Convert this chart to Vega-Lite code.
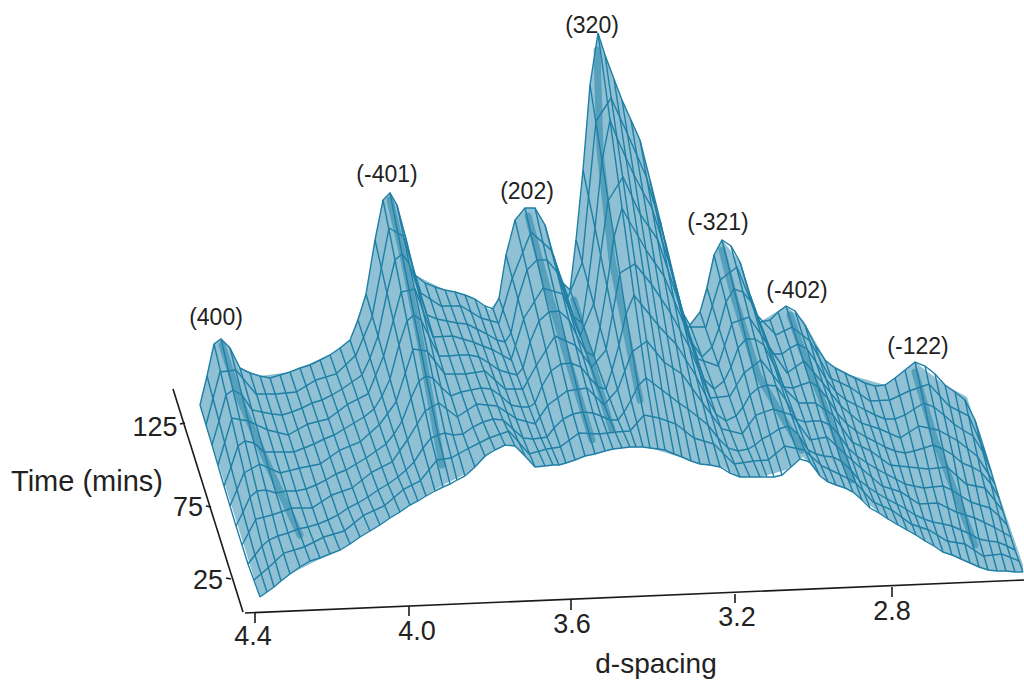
{"$schema":"https://vega.github.io/schema/vega-lite/v6.json","autosize":"none","padding":0,"width":1024,"height":681,"background":"white","config":{"view":{"stroke":null}},
"datasets":{
"fill":[{"x":200,"t":405,"b":405},{"x":207,"t":376,"b":428},{"x":214,"t":344,"b":450},{"x":221,"t":339,"b":472},{"x":230,"t":348,"b":501},{"x":240,"t":368,"b":533},{"x":260,"t":376,"b":597},{"x":290,"t":372,"b":574},{"x":330,"t":355,"b":554},{"x":350,"t":340,"b":544},{"x":366,"t":294,"b":533},{"x":375,"t":240,"b":528},{"x":383,"t":200,"b":523},{"x":390,"t":193,"b":518},{"x":397,"t":205,"b":514},{"x":405,"t":235,"b":508},{"x":415,"t":275,"b":502},{"x":445,"t":290,"b":484},{"x":470,"t":296,"b":472},{"x":490,"t":310,"b":453},{"x":499,"t":298,"b":448},{"x":506,"t":255,"b":444},{"x":515,"t":220,"b":446},{"x":525,"t":208,"b":456},{"x":535,"t":208,"b":467},{"x":545,"t":225,"b":466},{"x":553,"t":254,"b":465},{"x":562,"t":282,"b":465},{"x":570,"t":290,"b":462},{"x":576,"t":240,"b":460},{"x":583,"t":170,"b":457},{"x":590,"t":85,"b":455},{"x":598,"t":33,"b":453},{"x":605,"t":55,"b":451},{"x":622,"t":100,"b":448},{"x":640,"t":140,"b":447},{"x":650,"t":180,"b":448},{"x":670,"t":265,"b":454},{"x":680,"t":308,"b":457},{"x":690,"t":325,"b":461},{"x":700,"t":312,"b":464},{"x":714,"t":255,"b":466},{"x":722,"t":240,"b":467},{"x":740,"t":262,"b":477},{"x":760,"t":322,"b":477},{"x":786,"t":306,"b":470},{"x":803,"t":320,"b":457},{"x":827,"t":362,"b":482},{"x":850,"t":375,"b":490},{"x":885,"t":385,"b":517},{"x":915,"t":362,"b":535},{"x":945,"t":385,"b":552},{"x":967,"t":397,"b":562},{"x":987,"t":460,"b":570},{"x":1023,"t":565,"b":572}],
"wire":[
{"i":1,"j":0,"x":260,"y":597},{"i":1,"j":1,"x":248,"y":564},{"i":1,"j":2,"x":236,"y":526},{"i":1,"j":3,"x":224,"y":486},{"i":1,"j":4,"x":212,"y":445},{"i":1,"j":5,"x":200,"y":405},
{"i":2,"j":0,"x":267,"y":592},{"i":2,"j":1,"x":255,"y":555},{"i":2,"j":2,"x":243,"y":512},{"i":2,"j":3,"x":231,"y":467},{"i":2,"j":4,"x":219,"y":421},{"i":2,"j":5,"x":207,"y":376},
{"i":3,"j":0,"x":274,"y":587},{"i":3,"j":1,"x":262,"y":546},{"i":3,"j":2,"x":250,"y":497},{"i":3,"j":3,"x":238,"y":446},{"i":3,"j":4,"x":226,"y":395},{"i":3,"j":5,"x":214,"y":344},
{"i":4,"j":0,"x":281,"y":581},{"i":4,"j":1,"x":269,"y":540},{"i":4,"j":2,"x":257,"y":491},{"i":4,"j":3,"x":245,"y":441},{"i":4,"j":4,"x":233,"y":390},{"i":4,"j":5,"x":221,"y":339},
{"i":5,"j":0,"x":290,"y":574},{"i":5,"j":1,"x":278,"y":536},{"i":5,"j":2,"x":266,"y":490},{"i":5,"j":3,"x":254,"y":443},{"i":5,"j":4,"x":242,"y":395},{"i":5,"j":5,"x":230,"y":348},
{"i":6,"j":0,"x":300,"y":567},{"i":6,"j":1,"x":288,"y":533},{"i":6,"j":2,"x":276,"y":493},{"i":6,"j":3,"x":264,"y":452},{"i":6,"j":4,"x":252,"y":410},{"i":6,"j":5,"x":240,"y":368},
{"i":7,"j":0,"x":310,"y":561},{"i":7,"j":1,"x":298,"y":529},{"i":7,"j":2,"x":286,"y":491},{"i":7,"j":3,"x":274,"y":452},{"i":7,"j":4,"x":262,"y":412},{"i":7,"j":5,"x":250,"y":373},
{"i":8,"j":0,"x":320,"y":558},{"i":8,"j":1,"x":308,"y":527},{"i":8,"j":2,"x":296,"y":491},{"i":8,"j":3,"x":284,"y":452},{"i":8,"j":4,"x":272,"y":414},{"i":8,"j":5,"x":260,"y":376},
{"i":9,"j":0,"x":330,"y":554},{"i":9,"j":1,"x":318,"y":524},{"i":9,"j":2,"x":306,"y":489},{"i":9,"j":3,"x":294,"y":452},{"i":9,"j":4,"x":282,"y":415},{"i":9,"j":5,"x":270,"y":378},
{"i":10,"j":0,"x":340,"y":550},{"i":10,"j":1,"x":328,"y":520},{"i":10,"j":2,"x":316,"y":485},{"i":10,"j":3,"x":304,"y":448},{"i":10,"j":4,"x":292,"y":412},{"i":10,"j":5,"x":280,"y":375},
{"i":11,"j":0,"x":350,"y":544},{"i":11,"j":1,"x":338,"y":515},{"i":11,"j":2,"x":326,"y":480},{"i":11,"j":3,"x":314,"y":444},{"i":11,"j":4,"x":302,"y":408},{"i":11,"j":5,"x":290,"y":372},
{"i":12,"j":0,"x":360,"y":537},{"i":12,"j":1,"x":348,"y":508},{"i":12,"j":2,"x":336,"y":474},{"i":12,"j":3,"x":324,"y":439},{"i":12,"j":4,"x":312,"y":403},{"i":12,"j":5,"x":300,"y":368},
{"i":13,"j":0,"x":370,"y":531},{"i":13,"j":1,"x":358,"y":503},{"i":13,"j":2,"x":346,"y":470},{"i":13,"j":3,"x":334,"y":435},{"i":13,"j":4,"x":322,"y":400},{"i":13,"j":5,"x":310,"y":365},
{"i":14,"j":0,"x":380,"y":525},{"i":14,"j":1,"x":368,"y":497},{"i":14,"j":2,"x":356,"y":464},{"i":14,"j":3,"x":344,"y":429},{"i":14,"j":4,"x":332,"y":395},{"i":14,"j":5,"x":320,"y":360},
{"i":15,"j":0,"x":390,"y":518},{"i":15,"j":1,"x":378,"y":490},{"i":15,"j":2,"x":366,"y":458},{"i":15,"j":3,"x":354,"y":423},{"i":15,"j":4,"x":342,"y":389},{"i":15,"j":5,"x":330,"y":355},
{"i":16,"j":0,"x":400,"y":512},{"i":16,"j":1,"x":388,"y":484},{"i":16,"j":2,"x":376,"y":451},{"i":16,"j":3,"x":364,"y":417},{"i":16,"j":4,"x":352,"y":382},{"i":16,"j":5,"x":340,"y":348},
{"i":17,"j":0,"x":410,"y":505},{"i":17,"j":1,"x":398,"y":477},{"i":17,"j":2,"x":386,"y":444},{"i":17,"j":3,"x":374,"y":409},{"i":17,"j":4,"x":362,"y":375},{"i":17,"j":5,"x":350,"y":340},
{"i":18,"j":0,"x":418,"y":501},{"i":18,"j":1,"x":406,"y":470},{"i":18,"j":2,"x":394,"y":434},{"i":18,"j":3,"x":382,"y":396},{"i":18,"j":4,"x":370,"y":358},{"i":18,"j":5,"x":358,"y":320},
{"i":19,"j":0,"x":426,"y":496},{"i":19,"j":1,"x":414,"y":462},{"i":19,"j":2,"x":402,"y":421},{"i":19,"j":3,"x":390,"y":379},{"i":19,"j":4,"x":378,"y":336},{"i":19,"j":5,"x":366,"y":294},
{"i":20,"j":0,"x":435,"y":491},{"i":20,"j":1,"x":423,"y":448},{"i":20,"j":2,"x":411,"y":398},{"i":20,"j":3,"x":399,"y":345},{"i":20,"j":4,"x":387,"y":293},{"i":20,"j":5,"x":375,"y":240},
{"i":21,"j":0,"x":443,"y":487},{"i":21,"j":1,"x":431,"y":438},{"i":21,"j":2,"x":419,"y":381},{"i":21,"j":3,"x":407,"y":321},{"i":21,"j":4,"x":395,"y":260},{"i":21,"j":5,"x":383,"y":200},
{"i":22,"j":0,"x":450,"y":484},{"i":22,"j":1,"x":438,"y":435},{"i":22,"j":2,"x":426,"y":376},{"i":22,"j":3,"x":414,"y":315},{"i":22,"j":4,"x":402,"y":254},{"i":22,"j":5,"x":390,"y":193},
{"i":23,"j":0,"x":457,"y":480},{"i":23,"j":1,"x":445,"y":433},{"i":23,"j":2,"x":433,"y":378},{"i":23,"j":3,"x":421,"y":320},{"i":23,"j":4,"x":409,"y":263},{"i":23,"j":5,"x":397,"y":205},
{"i":24,"j":0,"x":465,"y":476},{"i":24,"j":1,"x":453,"y":435},{"i":24,"j":2,"x":441,"y":387},{"i":24,"j":3,"x":429,"y":336},{"i":24,"j":4,"x":417,"y":286},{"i":24,"j":5,"x":405,"y":235},
{"i":25,"j":0,"x":475,"y":467},{"i":25,"j":1,"x":463,"y":434},{"i":25,"j":2,"x":451,"y":396},{"i":25,"j":3,"x":439,"y":356},{"i":25,"j":4,"x":427,"y":315},{"i":25,"j":5,"x":415,"y":275},
{"i":26,"j":0,"x":485,"y":456},{"i":26,"j":1,"x":473,"y":427},{"i":26,"j":2,"x":461,"y":392},{"i":26,"j":3,"x":449,"y":356},{"i":26,"j":4,"x":437,"y":319},{"i":26,"j":5,"x":425,"y":283},
{"i":27,"j":0,"x":495,"y":450},{"i":27,"j":1,"x":483,"y":422},{"i":27,"j":2,"x":471,"y":390},{"i":27,"j":3,"x":459,"y":355},{"i":27,"j":4,"x":447,"y":321},{"i":27,"j":5,"x":435,"y":287},
{"i":28,"j":0,"x":505,"y":445},{"i":28,"j":1,"x":493,"y":419},{"i":28,"j":2,"x":481,"y":388},{"i":28,"j":3,"x":469,"y":355},{"i":28,"j":4,"x":457,"y":323},{"i":28,"j":5,"x":445,"y":290},
{"i":29,"j":0,"x":515,"y":446},{"i":29,"j":1,"x":503,"y":420},{"i":29,"j":2,"x":491,"y":389},{"i":29,"j":3,"x":479,"y":357},{"i":29,"j":4,"x":467,"y":324},{"i":29,"j":5,"x":455,"y":292},
{"i":30,"j":0,"x":525,"y":456},{"i":30,"j":1,"x":513,"y":429},{"i":30,"j":2,"x":501,"y":396},{"i":30,"j":3,"x":489,"y":363},{"i":30,"j":4,"x":477,"y":329},{"i":30,"j":5,"x":465,"y":295},
{"i":31,"j":0,"x":535,"y":467},{"i":31,"j":1,"x":523,"y":438},{"i":31,"j":2,"x":511,"y":405},{"i":31,"j":3,"x":499,"y":370},{"i":31,"j":4,"x":487,"y":334},{"i":31,"j":5,"x":475,"y":299},
{"i":32,"j":0,"x":545,"y":466},{"i":32,"j":1,"x":533,"y":439},{"i":32,"j":2,"x":521,"y":407},{"i":32,"j":3,"x":509,"y":373},{"i":32,"j":4,"x":497,"y":340},{"i":32,"j":5,"x":485,"y":306},
{"i":33,"j":0,"x":553,"y":465},{"i":33,"j":1,"x":541,"y":438},{"i":33,"j":2,"x":529,"y":407},{"i":33,"j":3,"x":517,"y":375},{"i":33,"j":4,"x":505,"y":342},{"i":33,"j":5,"x":493,"y":309},
{"i":34,"j":0,"x":559,"y":465},{"i":34,"j":1,"x":547,"y":437},{"i":34,"j":2,"x":535,"y":403},{"i":34,"j":3,"x":523,"y":368},{"i":34,"j":4,"x":511,"y":333},{"i":34,"j":5,"x":499,"y":298},
{"i":35,"j":0,"x":566,"y":463},{"i":35,"j":1,"x":554,"y":428},{"i":35,"j":2,"x":542,"y":386},{"i":35,"j":3,"x":530,"y":342},{"i":35,"j":4,"x":518,"y":299},{"i":35,"j":5,"x":506,"y":255},
{"i":36,"j":0,"x":575,"y":460},{"i":36,"j":1,"x":563,"y":419},{"i":36,"j":2,"x":551,"y":371},{"i":36,"j":3,"x":539,"y":321},{"i":36,"j":4,"x":527,"y":270},{"i":36,"j":5,"x":515,"y":220},
{"i":37,"j":0,"x":585,"y":456},{"i":37,"j":1,"x":573,"y":414},{"i":37,"j":2,"x":561,"y":364},{"i":37,"j":3,"x":549,"y":312},{"i":37,"j":4,"x":537,"y":260},{"i":37,"j":5,"x":525,"y":208},
{"i":38,"j":0,"x":595,"y":454},{"i":38,"j":1,"x":583,"y":412},{"i":38,"j":2,"x":571,"y":363},{"i":38,"j":3,"x":559,"y":311},{"i":38,"j":4,"x":547,"y":260},{"i":38,"j":5,"x":535,"y":208},
{"i":39,"j":0,"x":605,"y":451},{"i":39,"j":1,"x":593,"y":413},{"i":39,"j":2,"x":581,"y":367},{"i":39,"j":3,"x":569,"y":320},{"i":39,"j":4,"x":557,"y":272},{"i":39,"j":5,"x":545,"y":225},
{"i":40,"j":0,"x":613,"y":449},{"i":40,"j":1,"x":601,"y":416},{"i":40,"j":2,"x":589,"y":377},{"i":40,"j":3,"x":577,"y":336},{"i":40,"j":4,"x":565,"y":295},{"i":40,"j":5,"x":553,"y":254},
{"i":41,"j":0,"x":622,"y":448},{"i":41,"j":1,"x":610,"y":420},{"i":41,"j":2,"x":598,"y":387},{"i":41,"j":3,"x":586,"y":352},{"i":41,"j":4,"x":574,"y":317},{"i":41,"j":5,"x":562,"y":282},
{"i":42,"j":0,"x":630,"y":447},{"i":42,"j":1,"x":618,"y":420},{"i":42,"j":2,"x":606,"y":389},{"i":42,"j":3,"x":594,"y":356},{"i":42,"j":4,"x":582,"y":323},{"i":42,"j":5,"x":570,"y":290},
{"i":43,"j":0,"x":636,"y":447},{"i":43,"j":1,"x":624,"y":412},{"i":43,"j":2,"x":612,"y":370},{"i":43,"j":3,"x":600,"y":327},{"i":43,"j":4,"x":588,"y":283},{"i":43,"j":5,"x":576,"y":240},
{"i":44,"j":0,"x":643,"y":447},{"i":44,"j":1,"x":631,"y":400},{"i":44,"j":2,"x":619,"y":345},{"i":44,"j":3,"x":607,"y":286},{"i":44,"j":4,"x":595,"y":228},{"i":44,"j":5,"x":583,"y":170},
{"i":45,"j":0,"x":650,"y":448},{"i":45,"j":1,"x":638,"y":386},{"i":45,"j":2,"x":626,"y":314},{"i":45,"j":3,"x":614,"y":237},{"i":45,"j":4,"x":602,"y":161},{"i":45,"j":5,"x":590,"y":85},
{"i":46,"j":0,"x":658,"y":449},{"i":46,"j":1,"x":646,"y":378},{"i":46,"j":2,"x":634,"y":295},{"i":46,"j":3,"x":622,"y":208},{"i":46,"j":4,"x":610,"y":120},{"i":46,"j":5,"x":598,"y":33},
{"i":47,"j":0,"x":665,"y":450},{"i":47,"j":1,"x":653,"y":383},{"i":47,"j":2,"x":641,"y":304},{"i":47,"j":3,"x":629,"y":221},{"i":47,"j":4,"x":617,"y":138},{"i":47,"j":5,"x":605,"y":55},
{"i":48,"j":0,"x":674,"y":454},{"i":48,"j":1,"x":662,"y":390},{"i":48,"j":2,"x":650,"y":315},{"i":48,"j":3,"x":638,"y":236},{"i":48,"j":4,"x":626,"y":158},{"i":48,"j":5,"x":614,"y":79},
{"i":49,"j":0,"x":682,"y":457},{"i":49,"j":1,"x":670,"y":396},{"i":49,"j":2,"x":658,"y":325},{"i":49,"j":3,"x":646,"y":250},{"i":49,"j":4,"x":634,"y":175},{"i":49,"j":5,"x":622,"y":100},
{"i":50,"j":0,"x":691,"y":461},{"i":50,"j":1,"x":679,"y":403},{"i":50,"j":2,"x":667,"y":335},{"i":50,"j":3,"x":655,"y":263},{"i":50,"j":4,"x":643,"y":192},{"i":50,"j":5,"x":631,"y":120},
{"i":51,"j":0,"x":700,"y":464},{"i":51,"j":1,"x":688,"y":409},{"i":51,"j":2,"x":676,"y":344},{"i":51,"j":3,"x":664,"y":276},{"i":51,"j":4,"x":652,"y":208},{"i":51,"j":5,"x":640,"y":140},
{"i":52,"j":0,"x":710,"y":465},{"i":52,"j":1,"x":698,"y":417},{"i":52,"j":2,"x":686,"y":360},{"i":52,"j":3,"x":674,"y":300},{"i":52,"j":4,"x":662,"y":240},{"i":52,"j":5,"x":650,"y":180},
{"i":53,"j":0,"x":720,"y":467},{"i":53,"j":1,"x":708,"y":425},{"i":53,"j":2,"x":696,"y":376},{"i":53,"j":3,"x":684,"y":324},{"i":53,"j":4,"x":672,"y":272},{"i":53,"j":5,"x":660,"y":220},
{"i":54,"j":0,"x":730,"y":473},{"i":54,"j":1,"x":718,"y":438},{"i":54,"j":2,"x":706,"y":396},{"i":54,"j":3,"x":694,"y":352},{"i":54,"j":4,"x":682,"y":309},{"i":54,"j":5,"x":670,"y":265},
{"i":55,"j":0,"x":740,"y":477},{"i":55,"j":1,"x":728,"y":448},{"i":55,"j":2,"x":716,"y":414},{"i":55,"j":3,"x":704,"y":379},{"i":55,"j":4,"x":692,"y":343},{"i":55,"j":5,"x":680,"y":308},
{"i":56,"j":0,"x":750,"y":477},{"i":56,"j":1,"x":738,"y":451},{"i":56,"j":2,"x":726,"y":421},{"i":56,"j":3,"x":714,"y":389},{"i":56,"j":4,"x":702,"y":357},{"i":56,"j":5,"x":690,"y":325},
{"i":57,"j":0,"x":760,"y":477},{"i":57,"j":1,"x":748,"y":449},{"i":57,"j":2,"x":736,"y":416},{"i":57,"j":3,"x":724,"y":381},{"i":57,"j":4,"x":712,"y":347},{"i":57,"j":5,"x":700,"y":312},
{"i":58,"j":0,"x":767,"y":477},{"i":58,"j":1,"x":755,"y":445},{"i":58,"j":2,"x":743,"y":407},{"i":58,"j":3,"x":731,"y":367},{"i":58,"j":4,"x":719,"y":328},{"i":58,"j":5,"x":707,"y":288},
{"i":59,"j":0,"x":774,"y":477},{"i":59,"j":1,"x":762,"y":439},{"i":59,"j":2,"x":750,"y":395},{"i":59,"j":3,"x":738,"y":348},{"i":59,"j":4,"x":726,"y":302},{"i":59,"j":5,"x":714,"y":255},
{"i":60,"j":0,"x":782,"y":475},{"i":60,"j":1,"x":770,"y":435},{"i":60,"j":2,"x":758,"y":388},{"i":60,"j":3,"x":746,"y":339},{"i":60,"j":4,"x":734,"y":289},{"i":60,"j":5,"x":722,"y":240},
{"i":61,"j":0,"x":791,"y":467},{"i":61,"j":1,"x":779,"y":429},{"i":61,"j":2,"x":767,"y":385},{"i":61,"j":3,"x":755,"y":339},{"i":61,"j":4,"x":743,"y":292},{"i":61,"j":5,"x":731,"y":246},
{"i":62,"j":0,"x":800,"y":459},{"i":62,"j":1,"x":788,"y":426},{"i":62,"j":2,"x":776,"y":386},{"i":62,"j":3,"x":764,"y":345},{"i":62,"j":4,"x":752,"y":303},{"i":62,"j":5,"x":740,"y":262},
{"i":63,"j":0,"x":810,"y":462},{"i":63,"j":1,"x":798,"y":434},{"i":63,"j":2,"x":786,"y":400},{"i":63,"j":3,"x":774,"y":365},{"i":63,"j":4,"x":762,"y":330},{"i":63,"j":5,"x":750,"y":295},
{"i":64,"j":0,"x":820,"y":476},{"i":64,"j":1,"x":808,"y":450},{"i":64,"j":2,"x":796,"y":419},{"i":64,"j":3,"x":784,"y":387},{"i":64,"j":4,"x":772,"y":354},{"i":64,"j":5,"x":760,"y":322},
{"i":65,"j":0,"x":828,"y":482},{"i":65,"j":1,"x":816,"y":454},{"i":65,"j":2,"x":805,"y":422},{"i":65,"j":3,"x":793,"y":388},{"i":65,"j":4,"x":782,"y":354},{"i":65,"j":5,"x":770,"y":320},
{"i":66,"j":0,"x":836,"y":485},{"i":66,"j":1,"x":824,"y":456},{"i":66,"j":2,"x":813,"y":421},{"i":66,"j":3,"x":801,"y":385},{"i":66,"j":4,"x":790,"y":348},{"i":66,"j":5,"x":778,"y":312},
{"i":67,"j":0,"x":845,"y":488},{"i":67,"j":1,"x":833,"y":457},{"i":67,"j":2,"x":821,"y":421},{"i":67,"j":3,"x":810,"y":382},{"i":67,"j":4,"x":798,"y":344},{"i":67,"j":5,"x":786,"y":306},
{"i":68,"j":0,"x":853,"y":492},{"i":68,"j":1,"x":841,"y":461},{"i":68,"j":2,"x":830,"y":425},{"i":68,"j":3,"x":818,"y":387},{"i":68,"j":4,"x":807,"y":349},{"i":68,"j":5,"x":795,"y":311},
{"i":69,"j":0,"x":862,"y":500},{"i":69,"j":1,"x":851,"y":470},{"i":69,"j":2,"x":839,"y":435},{"i":69,"j":3,"x":828,"y":399},{"i":69,"j":4,"x":816,"y":362},{"i":69,"j":5,"x":805,"y":325},
{"i":70,"j":0,"x":870,"y":508},{"i":70,"j":1,"x":859,"y":480},{"i":70,"j":2,"x":848,"y":448},{"i":70,"j":3,"x":837,"y":413},{"i":70,"j":4,"x":826,"y":379},{"i":70,"j":5,"x":815,"y":345},
{"i":71,"j":0,"x":879,"y":513},{"i":71,"j":1,"x":868,"y":487},{"i":71,"j":2,"x":857,"y":456},{"i":71,"j":3,"x":847,"y":424},{"i":71,"j":4,"x":836,"y":392},{"i":71,"j":5,"x":825,"y":360},
{"i":72,"j":0,"x":888,"y":519},{"i":72,"j":1,"x":877,"y":493},{"i":72,"j":2,"x":867,"y":463},{"i":72,"j":3,"x":856,"y":431},{"i":72,"j":4,"x":846,"y":400},{"i":72,"j":5,"x":835,"y":368},
{"i":73,"j":0,"x":898,"y":525},{"i":73,"j":1,"x":887,"y":499},{"i":73,"j":2,"x":877,"y":469},{"i":73,"j":3,"x":866,"y":437},{"i":73,"j":4,"x":856,"y":405},{"i":73,"j":5,"x":845,"y":373},
{"i":74,"j":0,"x":907,"y":530},{"i":74,"j":1,"x":897,"y":504},{"i":74,"j":2,"x":886,"y":474},{"i":74,"j":3,"x":876,"y":442},{"i":74,"j":4,"x":865,"y":410},{"i":74,"j":5,"x":855,"y":378},
{"i":75,"j":0,"x":916,"y":535},{"i":75,"j":1,"x":906,"y":509},{"i":75,"j":2,"x":896,"y":479},{"i":75,"j":3,"x":885,"y":447},{"i":75,"j":4,"x":875,"y":415},{"i":75,"j":5,"x":865,"y":383},
{"i":76,"j":0,"x":925,"y":541},{"i":76,"j":1,"x":915,"y":515},{"i":76,"j":2,"x":905,"y":484},{"i":76,"j":3,"x":895,"y":451},{"i":76,"j":4,"x":885,"y":419},{"i":76,"j":5,"x":875,"y":386},
{"i":77,"j":0,"x":934,"y":546},{"i":77,"j":1,"x":924,"y":519},{"i":77,"j":2,"x":914,"y":486},{"i":77,"j":3,"x":905,"y":453},{"i":77,"j":4,"x":895,"y":419},{"i":77,"j":5,"x":885,"y":385},
{"i":78,"j":0,"x":943,"y":552},{"i":78,"j":1,"x":933,"y":522},{"i":78,"j":2,"x":924,"y":488},{"i":78,"j":3,"x":914,"y":451},{"i":78,"j":4,"x":905,"y":415},{"i":78,"j":5,"x":895,"y":378},
{"i":79,"j":0,"x":952,"y":555},{"i":79,"j":1,"x":943,"y":524},{"i":79,"j":2,"x":933,"y":487},{"i":79,"j":3,"x":924,"y":448},{"i":79,"j":4,"x":914,"y":409},{"i":79,"j":5,"x":905,"y":370},
{"i":80,"j":0,"x":961,"y":559},{"i":80,"j":1,"x":952,"y":526},{"i":80,"j":2,"x":943,"y":486},{"i":80,"j":3,"x":933,"y":445},{"i":80,"j":4,"x":924,"y":403},{"i":80,"j":5,"x":915,"y":362},
{"i":81,"j":0,"x":970,"y":563},{"i":81,"j":1,"x":961,"y":530},{"i":81,"j":2,"x":952,"y":490},{"i":81,"j":3,"x":943,"y":449},{"i":81,"j":4,"x":934,"y":407},{"i":81,"j":5,"x":925,"y":366},
{"i":82,"j":0,"x":979,"y":567},{"i":82,"j":1,"x":970,"y":534},{"i":82,"j":2,"x":961,"y":496},{"i":82,"j":3,"x":953,"y":455},{"i":82,"j":4,"x":944,"y":415},{"i":82,"j":5,"x":935,"y":374},
{"i":83,"j":0,"x":988,"y":570},{"i":83,"j":1,"x":979,"y":539},{"i":83,"j":2,"x":971,"y":502},{"i":83,"j":3,"x":962,"y":463},{"i":83,"j":4,"x":954,"y":424},{"i":83,"j":5,"x":945,"y":385},
{"i":84,"j":0,"x":997,"y":571},{"i":84,"j":1,"x":989,"y":541},{"i":84,"j":2,"x":980,"y":505},{"i":84,"j":3,"x":972,"y":467},{"i":84,"j":4,"x":963,"y":430},{"i":84,"j":5,"x":955,"y":392},
{"i":85,"j":0,"x":1006,"y":571},{"i":85,"j":1,"x":998,"y":542},{"i":85,"j":2,"x":990,"y":508},{"i":85,"j":3,"x":981,"y":472},{"i":85,"j":4,"x":973,"y":436},{"i":85,"j":5,"x":965,"y":400},
{"i":86,"j":0,"x":1015,"y":572},{"i":86,"j":1,"x":1007,"y":546},{"i":86,"j":2,"x":999,"y":516},{"i":86,"j":3,"x":991,"y":484},{"i":86,"j":4,"x":983,"y":452},{"i":86,"j":5,"x":975,"y":420},
{"i":87,"j":0,"x":1023,"y":572},{"i":87,"j":1,"x":1015,"y":550},{"i":87,"j":2,"x":1007,"y":525},{"i":87,"j":3,"x":999,"y":498},{"i":87,"j":4,"x":991,"y":471},{"i":87,"j":5,"x":983,"y":445}
],
"cross":[
{"k":"a","i":1,"x":254,"y":580},{"k":"b","i":1,"x":242,"y":545},{"k":"c","i":1,"x":230,"y":506},{"k":"d","i":1,"x":218,"y":465},{"k":"e","i":1,"x":206,"y":425},
{"k":"a","i":3,"x":268,"y":568},{"k":"b","i":3,"x":256,"y":519},{"k":"c","i":3,"x":244,"y":473},{"k":"d","i":3,"x":232,"y":418},{"k":"e","i":3,"x":220,"y":372},
{"k":"a","i":5,"x":284,"y":553},{"k":"b","i":5,"x":272,"y":515},{"k":"c","i":5,"x":260,"y":464},{"k":"d","i":5,"x":248,"y":421},{"k":"e","i":5,"x":236,"y":370},
{"k":"a","i":7,"x":304,"y":547},{"k":"b","i":7,"x":292,"y":508},{"k":"c","i":7,"x":280,"y":473},{"k":"d","i":7,"x":268,"y":430},{"k":"e","i":7,"x":256,"y":394},
{"k":"a","i":9,"x":324,"y":537},{"k":"b","i":9,"x":312,"y":508},{"k":"c","i":9,"x":300,"y":468},{"k":"d","i":9,"x":288,"y":435},{"k":"e","i":9,"x":276,"y":394},
{"k":"a","i":11,"x":344,"y":531},{"k":"b","i":11,"x":332,"y":495},{"k":"c","i":11,"x":320,"y":464},{"k":"d","i":11,"x":308,"y":424},{"k":"e","i":11,"x":296,"y":392},
{"k":"a","i":13,"x":364,"y":515},{"k":"b","i":13,"x":352,"y":488},{"k":"c","i":13,"x":340,"y":450},{"k":"d","i":13,"x":328,"y":419},{"k":"e","i":13,"x":316,"y":380},
{"k":"a","i":15,"x":384,"y":506},{"k":"b","i":15,"x":372,"y":472},{"k":"c","i":15,"x":360,"y":442},{"k":"d","i":15,"x":348,"y":404},{"k":"e","i":15,"x":336,"y":374},
{"k":"a","i":17,"x":404,"y":489},{"k":"b","i":17,"x":392,"y":462},{"k":"c","i":17,"x":380,"y":424},{"k":"d","i":17,"x":368,"y":394},{"k":"e","i":17,"x":356,"y":355},
{"k":"a","i":19,"x":420,"y":481},{"k":"b","i":19,"x":408,"y":439},{"k":"c","i":19,"x":396,"y":402},{"k":"d","i":19,"x":384,"y":355},{"k":"e","i":19,"x":372,"y":317},
{"k":"a","i":21,"x":437,"y":460},{"k":"b","i":21,"x":425,"y":411},{"k":"c","i":21,"x":413,"y":349},{"k":"d","i":21,"x":401,"y":292},{"k":"e","i":21,"x":389,"y":228},
{"k":"a","i":23,"x":451,"y":458},{"k":"b","i":23,"x":439,"y":403},{"k":"c","i":23,"x":427,"y":351},{"k":"d","i":23,"x":415,"y":289},{"k":"e","i":23,"x":403,"y":236},
{"k":"a","i":25,"x":469,"y":448},{"k":"b","i":25,"x":457,"y":417},{"k":"c","i":25,"x":445,"y":374},{"k":"d","i":25,"x":433,"y":337},{"k":"e","i":25,"x":421,"y":293},
{"k":"a","i":27,"x":489,"y":438},{"k":"b","i":27,"x":477,"y":404},{"k":"c","i":27,"x":465,"y":374},{"k":"d","i":27,"x":453,"y":336},{"k":"e","i":27,"x":441,"y":306},
{"k":"a","i":29,"x":509,"y":431},{"k":"b","i":29,"x":497,"y":406},{"k":"c","i":29,"x":485,"y":371},{"k":"d","i":29,"x":473,"y":342},{"k":"e","i":29,"x":461,"y":306},
{"k":"a","i":31,"x":529,"y":454},{"k":"b","i":31,"x":517,"y":419},{"k":"c","i":31,"x":505,"y":389},{"k":"d","i":31,"x":493,"y":350},{"k":"e","i":31,"x":481,"y":318},
{"k":"a","i":33,"x":547,"y":449},{"k":"b","i":33,"x":535,"y":424},{"k":"c","i":33,"x":523,"y":389},{"k":"d","i":33,"x":511,"y":360},{"k":"e","i":33,"x":499,"y":323},
{"k":"a","i":35,"x":560,"y":447},{"k":"b","i":35,"x":548,"y":405},{"k":"c","i":35,"x":536,"y":366},{"k":"d","i":35,"x":524,"y":318},{"k":"e","i":35,"x":512,"y":279},
{"k":"a","i":37,"x":579,"y":433},{"k":"b","i":37,"x":567,"y":391},{"k":"c","i":37,"x":555,"y":336},{"k":"d","i":37,"x":543,"y":288},{"k":"e","i":37,"x":531,"y":232},
{"k":"a","i":39,"x":599,"y":434},{"k":"b","i":39,"x":587,"y":388},{"k":"c","i":39,"x":575,"y":345},{"k":"d","i":39,"x":563,"y":294},{"k":"e","i":39,"x":551,"y":250},
{"k":"a","i":41,"x":616,"y":432},{"k":"b","i":41,"x":604,"y":405},{"k":"c","i":41,"x":592,"y":367},{"k":"d","i":41,"x":580,"y":336},{"k":"e","i":41,"x":568,"y":297},
{"k":"a","i":43,"x":630,"y":431},{"k":"b","i":43,"x":618,"y":389},{"k":"c","i":43,"x":606,"y":350},{"k":"d","i":43,"x":594,"y":303},{"k":"e","i":43,"x":582,"y":263},
{"k":"a","i":45,"x":644,"y":415},{"k":"b","i":45,"x":632,"y":352},{"k":"c","i":45,"x":620,"y":273},{"k":"d","i":45,"x":608,"y":201},{"k":"e","i":45,"x":596,"y":121},
{"k":"a","i":47,"x":659,"y":418},{"k":"b","i":47,"x":647,"y":341},{"k":"c","i":47,"x":635,"y":264},{"k":"d","i":47,"x":623,"y":177},{"k":"e","i":47,"x":611,"y":98},
{"k":"a","i":49,"x":676,"y":424},{"k":"b","i":49,"x":664,"y":362},{"k":"c","i":49,"x":652,"y":285},{"k":"d","i":49,"x":640,"y":214},{"k":"e","i":49,"x":628,"y":135},
{"k":"a","i":51,"x":694,"y":438},{"k":"b","i":51,"x":682,"y":374},{"k":"c","i":51,"x":670,"y":312},{"k":"d","i":51,"x":658,"y":240},{"k":"e","i":51,"x":646,"y":176},
{"k":"a","i":53,"x":714,"y":444},{"k":"b","i":53,"x":702,"y":402},{"k":"c","i":53,"x":690,"y":348},{"k":"d","i":53,"x":678,"y":300},{"k":"e","i":53,"x":666,"y":244},
{"k":"a","i":55,"x":734,"y":464},{"k":"b","i":55,"x":722,"y":429},{"k":"c","i":55,"x":710,"y":398},{"k":"d","i":55,"x":698,"y":359},{"k":"e","i":55,"x":686,"y":327},
{"k":"a","i":57,"x":754,"y":461},{"k":"b","i":57,"x":742,"y":434},{"k":"c","i":57,"x":730,"y":396},{"k":"d","i":57,"x":718,"y":366},{"k":"e","i":57,"x":706,"y":327},
{"k":"a","i":59,"x":768,"y":460},{"k":"b","i":59,"x":756,"y":415},{"k":"c","i":59,"x":744,"y":373},{"k":"d","i":59,"x":732,"y":323},{"k":"e","i":59,"x":720,"y":280},
{"k":"a","i":61,"x":785,"y":446},{"k":"b","i":61,"x":773,"y":409},{"k":"c","i":61,"x":761,"y":360},{"k":"d","i":61,"x":749,"y":317},{"k":"e","i":61,"x":737,"y":267},
{"k":"a","i":63,"x":804,"y":450},{"k":"b","i":63,"x":792,"y":415},{"k":"c","i":63,"x":780,"y":384},{"k":"d","i":63,"x":768,"y":345},{"k":"e","i":63,"x":756,"y":314},
{"k":"a","i":65,"x":822,"y":466},{"k":"b","i":65,"x":810,"y":440},{"k":"c","i":65,"x":799,"y":403},{"k":"d","i":65,"x":787,"y":373},{"k":"e","i":65,"x":776,"y":335},
{"k":"a","i":67,"x":839,"y":474},{"k":"b","i":67,"x":827,"y":437},{"k":"c","i":67,"x":815,"y":403},{"k":"d","i":67,"x":804,"y":361},{"k":"e","i":67,"x":792,"y":327},
{"k":"a","i":69,"x":856,"y":483},{"k":"b","i":69,"x":845,"y":454},{"k":"c","i":69,"x":833,"y":415},{"k":"d","i":69,"x":822,"y":382},{"k":"e","i":69,"x":810,"y":341},
{"k":"a","i":71,"x":873,"y":502},{"k":"b","i":71,"x":862,"y":469},{"k":"c","i":71,"x":852,"y":442},{"k":"d","i":71,"x":841,"y":406},{"k":"e","i":71,"x":830,"y":378},
{"k":"a","i":73,"x":892,"y":510},{"k":"b","i":73,"x":882,"y":486},{"k":"c","i":73,"x":871,"y":451},{"k":"d","i":73,"x":861,"y":423},{"k":"e","i":73,"x":850,"y":387},
{"k":"a","i":75,"x":911,"y":524},{"k":"b","i":75,"x":901,"y":492},{"k":"c","i":75,"x":890,"y":465},{"k":"d","i":75,"x":880,"y":429},{"k":"e","i":75,"x":870,"y":401},
{"k":"a","i":77,"x":929,"y":530},{"k":"b","i":77,"x":919,"y":504},{"k":"c","i":77,"x":909,"y":467},{"k":"d","i":77,"x":900,"y":438},{"k":"e","i":77,"x":890,"y":400},
{"k":"a","i":79,"x":947,"y":541},{"k":"b","i":79,"x":938,"y":503},{"k":"c","i":79,"x":928,"y":469},{"k":"d","i":79,"x":919,"y":426},{"k":"e","i":79,"x":909,"y":391},
{"k":"a","i":81,"x":965,"y":544},{"k":"b","i":81,"x":956,"y":512},{"k":"c","i":81,"x":947,"y":467},{"k":"d","i":81,"x":938,"y":430},{"k":"e","i":81,"x":929,"y":384},
{"k":"a","i":83,"x":983,"y":556},{"k":"b","i":83,"x":975,"y":518},{"k":"c","i":83,"x":966,"y":484},{"k":"d","i":83,"x":958,"y":441},{"k":"e","i":83,"x":949,"y":406},
{"k":"a","i":85,"x":1002,"y":554},{"k":"b","i":85,"x":994,"y":527},{"k":"c","i":85,"x":985,"y":488},{"k":"d","i":85,"x":977,"y":456},{"k":"e","i":85,"x":969,"y":416},
{"k":"a","i":87,"x":1019,"y":561},{"k":"b","i":87,"x":1011,"y":537},{"k":"c","i":87,"x":1003,"y":511},{"k":"d","i":87,"x":995,"y":484},{"k":"e","i":87,"x":987,"y":458}
],
"ridge":[
{"r":"a","o":1,"x":222,"y":345},{"r":"a","o":2,"x":240,"y":400},{"r":"a","o":3,"x":268,"y":465},{"r":"a","o":4,"x":300,"y":535},
{"r":"b","o":1,"x":390,"y":200},{"r":"b","o":2,"x":404,"y":260},{"r":"b","o":3,"x":420,"y":340},{"r":"b","o":4,"x":442,"y":465},
{"r":"c","o":1,"x":528,"y":216},{"r":"c","o":2,"x":545,"y":280},{"r":"c","o":3,"x":565,"y":350},{"r":"c","o":4,"x":592,"y":440},
{"r":"d","o":1,"x":597,"y":50},{"r":"d","o":2,"x":600,"y":150},{"r":"d","o":3,"x":612,"y":260},{"r":"d","o":4,"x":640,"y":400},
{"r":"e","o":1,"x":722,"y":250},{"r":"e","o":2,"x":735,"y":300},{"r":"e","o":3,"x":758,"y":375},{"r":"e","o":4,"x":802,"y":450},
{"r":"f","o":1,"x":790,"y":315},{"r":"f","o":2,"x":802,"y":350},{"r":"f","o":3,"x":822,"y":400},{"r":"f","o":4,"x":852,"y":480},
{"r":"g","o":1,"x":574,"y":300},{"r":"g","o":2,"x":588,"y":350},{"r":"g","o":3,"x":612,"y":430},
{"r":"h","o":1,"x":915,"y":372},{"r":"h","o":2,"x":935,"y":440},{"r":"h","o":3,"x":975,"y":545}
],
"axes":[
{"s":"time","o":1,"x":173,"y":389},{"s":"time","o":2,"x":243,"y":612},
{"s":"d","o":1,"x":245,"y":613},{"s":"d","o":2,"x":1024,"y":580},
{"s":"t1","o":1,"x":180,"y":424},{"s":"t1","o":2,"x":185,"y":423},
{"s":"t2","o":1,"x":206,"y":506},{"s":"t2","o":2,"x":211,"y":507},
{"s":"t3","o":1,"x":226,"y":578},{"s":"t3","o":2,"x":231,"y":579},
{"s":"d1","o":1,"x":255,"y":613},{"s":"d1","o":2,"x":255,"y":623},
{"s":"d2","o":1,"x":409,"y":606},{"s":"d2","o":2,"x":409,"y":616},
{"s":"d3","o":1,"x":571,"y":600},{"s":"d3","o":2,"x":571,"y":610},
{"s":"d4","o":1,"x":735,"y":594},{"s":"d4","o":2,"x":735,"y":603},
{"s":"d5","o":1,"x":892,"y":587},{"s":"d5","o":2,"x":892,"y":597}
],
"peaks":[{"l":"(400)","x":216,"y":318},{"l":"(-401)","x":387,"y":175},{"l":"(202)","x":527,"y":192},{"l":"(320)","x":592,"y":26},{"l":"(-321)","x":718,"y":223},{"l":"(-402)","x":797,"y":291},{"l":"(-122)","x":918,"y":347}],
"ticks":[{"l":"125","x":155,"y":428},{"l":"75","x":188,"y":508},{"l":"25","x":208,"y":581},{"l":"4.4","x":253,"y":637},{"l":"4.0","x":417,"y":632},{"l":"3.6","x":572,"y":625},{"l":"3.2","x":737,"y":618},{"l":"2.8","x":892,"y":612}],
"titles":[{"l":"Time (mins)","x":87,"y":482,"s":29},{"l":"d-spacing","x":656,"y":665,"s":28}]
},
"encoding":{"x":{"field":"x","type":"quantitative","scale":{"domain":[0,1024]},"axis":null},"y":{"field":"y","type":"quantitative","scale":{"domain":[681,0]},"axis":null}},
"layer":[
{"data":{"name":"fill"},"mark":{"type":"area","color":"#8fc0d3"},"encoding":{"y":{"field":"t","type":"quantitative"},"y2":{"field":"b"}}},
{"data":{"name":"wire"},"mark":{"type":"line","color":"#1f7fa5","strokeWidth":1.4},"encoding":{"detail":{"field":"i"},"order":{"field":"j"}}},
{"data":{"name":"wire"},"mark":{"type":"line","color":"#1f7fa5","strokeWidth":1.4},"encoding":{"detail":{"field":"j"},"order":{"field":"i"}}},
{"data":{"name":"cross"},"mark":{"type":"line","color":"#1f7fa5","strokeWidth":1.4},"encoding":{"detail":{"field":"k"},"order":{"field":"i"}}},
{"data":{"name":"ridge"},"mark":{"type":"line","color":"#1f7fa5","strokeWidth":7,"opacity":0.5,"strokeCap":"round"},"encoding":{"detail":{"field":"r"},"order":{"field":"o"}}},
{"data":{"name":"axes"},"mark":{"type":"line","color":"#1a1a1a","strokeWidth":1.6},"encoding":{"detail":{"field":"s"},"order":{"field":"o"}}},
{"data":{"name":"peaks"},"mark":{"type":"text","font":"Liberation Sans","fontSize":23,"color":"#222222"},"encoding":{"text":{"field":"l"}}},
{"data":{"name":"ticks"},"mark":{"type":"text","font":"Liberation Sans","fontSize":27,"color":"#222222"},"encoding":{"text":{"field":"l"}}},
{"data":{"name":"titles"},"mark":{"type":"text","font":"Liberation Sans","color":"#222222"},"encoding":{"text":{"field":"l"},"size":{"field":"s","type":"quantitative","scale":null}}}
]}
